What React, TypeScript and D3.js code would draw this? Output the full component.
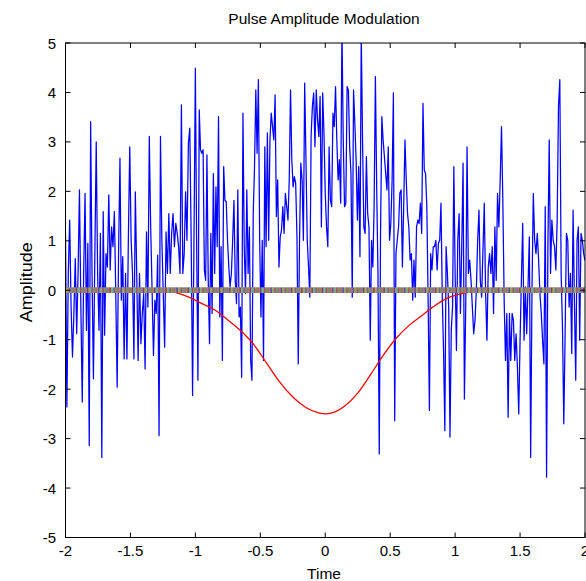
import React from "react";
import * as d3 from "d3";

// Blue received signal, one array per unit of time
const signalSeg1 = [1.15,-2.36,0.34,1.42,-0.34,-1.35,-0.47,0.64,-0.88,0.34,2.03,-0.34,-2.26,0.34,1.96,-0.81,0.95,-3.14,3.41,0.34,-1.79,0.68,3.0,0.34,-0.81,1.15,-3.38,1.59,-0.91,0.74,0.47,1.93,0.41,1.28,0.88,1.59,-0.07,-1.96,0.74,2.67,-0.2,0.68,-1.39,0.34,-1.39,1.01,2.9,1.01,0.34,-1.39,1.99,0.34,-1.42,0.34,-1.08,-0.47,-0.07,-1.59,1.18,-0.34,3.11,1.28,0,-1.32,-0.2,-0.47,0.71,-2.94,3.11,1.01,-0.07,-1.15,1.18,0.34,1.55,0.34,1.15,1.55,0.88,1.35,1.15,0.88,0.34,3.75,0.34,0.74,1.99,1.01,2.97,3.28,1.01,-2.13,1.01];
const signalSeg2 = [4.49,0.88,-1.82,3.65,2.84,2.77,2.84,0.41,0.2,2.74,0.2,-1.08,1.15,-0.47,2.36,0.34,2.09,0.88,3.51,-0.54,0.88,-1.42,2.5,1.82,1.79,1.01,0.47,0.07,0.34,1.01,1.82,0.2,-0.27,2.03,-0.54,-0.34,-1.76,3.58,0.88,-0.07,2.03,0.34,1.28,-1.42,-1.82,1.55,2.5,4.05,2.77,4.26,1.01,-0.54,1.01,-1.42,2.9,0.88,3.18,1.01,3.04,3.58,3.31,3.04,3.95,1.49,2.23,0.47,1.08,1.22,1.69,1.15,1.96,1.69,1.42,2.23,4.05,2.64,2.09,2.3,2.16,1.08,-1.49,1.01,2.57,2.23,1.01,4.19,2.64,1.01,0.47,-0.14,3.11,3.72,3.99,2.9,4.05,3.45,3.11,3.92,1.28,3.99,3.18];
const signalSeg3 = [1.96,1.28,0.88,2.9,1.82,1.69,3.58,3.31,4.12,3.04,2.23,2.64,1.76,5.3,3.04,1.69,1.76,4.12,4.05,2.9,2.36,-0.14,4.05,3.38,2.64,1.42,2.5,0.68,5.2,3.04,1.28,1.15,2.7,1.55,1.28,-1.01,1.01,0.47,1.69,4.32,2.09,0.34,-3.31,1.15,3.51,3.04,2.7,2.36,2.03,2.9,1.01,1.35,2.23,3.99,-2.64,0.74,1.01,1.28,1.96,2.03,0.47,1.69,3.04,2.23,1.55,1.28,0.61,0.74,-0.2,0.61,-0.14,1.28,1.42,1.35,1.76,1.15,3.78,2.43,2.36,1.69,-0.2,-2.43,0.74,0.41,0.88,0.88,1.01,0.41,0.95,1.01,1.76,-0.14,-1.22,-2.84,0.88,0.34,-0.34,-2.97,-0.81,-0.34,2.5];
const signalSeg4 = [0.34,-1.22,1.01,1.55,-0.47,0.88,2.57,-2.2,-0.34,2.9,0.34,0.61,0.2,-0.34,-0.88,-0.61,0,1.01,1.62,0.2,-0.14,0.81,1.76,-0.07,-1.01,0.47,0.74,0.34,0.88,-0.47,1.28,0.2,1.96,1.28,2.23,3.31,1.82,-0.2,-1.42,-0.47,-2.57,-0.47,-1.42,-0.47,-0.61,-1.42,-0.88,-1.55,-2.5,-1.01,0.2,1.35,-1.01,0.07,-0.88,0.07,1.08,-3.38,0,1.96,1.01,0.74,1.15,0.61,-0.07,-0.47,-1.01,-1.49,1.69,-3.78,0.88,3.04,0.34,1.42,1.01,0.88,0.41,1.42,3.72,4.26,0.34,-0.74,-2.7,-0.88,1.15,1.01,-0.34,0.34,-1.28,1.62,-0.2,-1.82,1.01,1.28,-1.01,1.15,1.01,0.74];
const segmentStarts = [-2, -1, 0, 1];

// Red pulse
const pulseTime = [-1.25, -1.15, -1.05, -0.95, -0.85, -0.75, -0.65, -0.55, -0.45, -0.35, -0.25, -0.15, -0.05, 0, 0.05, 0.15, 0.25, 0.35, 0.45, 0.55, 0.65, 0.75, 0.85, 0.95, 1.05, 1.15, 1.25];
const pulseValue = [0, -0.05, -0.14, -0.27, -0.4, -0.6, -0.82, -1.1, -1.48, -1.86, -2.16, -2.37, -2.48, -2.5, -2.48, -2.34, -2.08, -1.7, -1.3, -0.96, -0.7, -0.5, -0.3, -0.15, -0.07, -0.02, 0];

const xTicks = [-2, -1.5, -1, -0.5, 0, 0.5, 1, 1.5, 2];
const yTicks = [-5, -4, -3, -2, -1, 0, 1, 2, 3, 4, 5];
const stemColors = ["#2a3fc0", "#d9a21a", "#3cc0c8", "#c83a3a", "#8a8a8a", "#6f9a3a", "#a060b8", "#d07a2a"];

const W = 586, H = 581;
const L = 65.5, R = 585, T = 43, B = 537.5;
const FONT = "'Liberation Sans', Arial, Helvetica, sans-serif";

export default function App() {
  const x = d3.scaleLinear().domain([-2, 2]).range([L, R]);
  const y = d3.scaleLinear().domain([-5, 5]).range([B, T]);

  const segs = [signalSeg1, signalSeg2, signalSeg3, signalSeg4];
  const signal: [number, number][] = [];
  segs.forEach((seg, k) => {
    seg.forEach((v, i) => signal.push([segmentStarts[k] + i / seg.length, v]));
  });
  signal.push([2, 0.6]);

  const line = d3.line<[number, number]>().x(d => x(d[0])).y(d => y(d[1]));
  const pulse: [number, number][] = pulseTime.map((t, i) => [t, pulseValue[i]]);
  const smooth = d3.line<[number, number]>().x(d => x(d[0])).y(d => y(d[1])).curve(d3.curveMonotoneX);

  const tickLen = 5;
  return (
    <svg width={W} height={H} style={{ position: "absolute", left: 0, top: 0, background: "#fff" }} fontFamily={FONT}>
      <defs>
        <clipPath id="plotclip">
          <rect x={L} y={T} width={R - L} height={B - T} />
        </clipPath>
      </defs>
      <rect x={0} y={0} width={W} height={H} fill="#fff" />
      <g clipPath="url(#plotclip)">
        <path d={line(signal) || ""} fill="none" stroke="#0000ff" strokeWidth={1.25} strokeLinejoin="round" />
        <path d={smooth(pulse) || ""} fill="none" stroke="#ff0000" strokeWidth={1.3} />
        <line x1={L} x2={R} y1={y(0)} y2={y(0)} stroke="#8e8686" strokeWidth={5.5} />
        {signal.map((d, i) => (
          <rect key={i} x={x(d[0]) - 0.8} y={y(0) - 2.75} width={1.6} height={5.5} fill={stemColors[i % stemColors.length]} opacity={0.8} />
        ))}
      </g>
      {/* axes box */}
      <rect x={L} y={T} width={R - L} height={B - T} fill="none" stroke="#000" strokeWidth={1} />
      {xTicks.map(t => (
        <g key={"x" + t}>
          <line x1={x(t)} x2={x(t)} y1={B} y2={B - tickLen} stroke="#000" />
          <line x1={x(t)} x2={x(t)} y1={T} y2={T + tickLen} stroke="#000" />
          <text x={x(t)} y={556} textAnchor="middle" fontSize={15} fill="#000">{t}</text>
        </g>
      ))}
      {yTicks.map(t => (
        <g key={"y" + t}>
          <line x1={L} x2={L + tickLen} y1={y(t)} y2={y(t)} stroke="#000" />
          <line x1={R} x2={R - tickLen} y1={y(t)} y2={y(t)} stroke="#000" />
          <text x={56} y={y(t) + 5.5} textAnchor="end" fontSize={15} fill="#000">{t}</text>
        </g>
      ))}
      <text x={324} y={24} textAnchor="middle" fontSize={15.5} fill="#000">Pulse Amplitude Modulation</text>
      <text x={324} y={579} textAnchor="middle" fontSize={15.5} fill="#000">Time</text>
      <text transform={`translate(32, ${y(0) - 8}) rotate(-90)`} textAnchor="middle" fontSize={16} fill="#000" textLength={80} lengthAdjust="spacingAndGlyphs">Amplitude</text>
    </svg>
  );
}
